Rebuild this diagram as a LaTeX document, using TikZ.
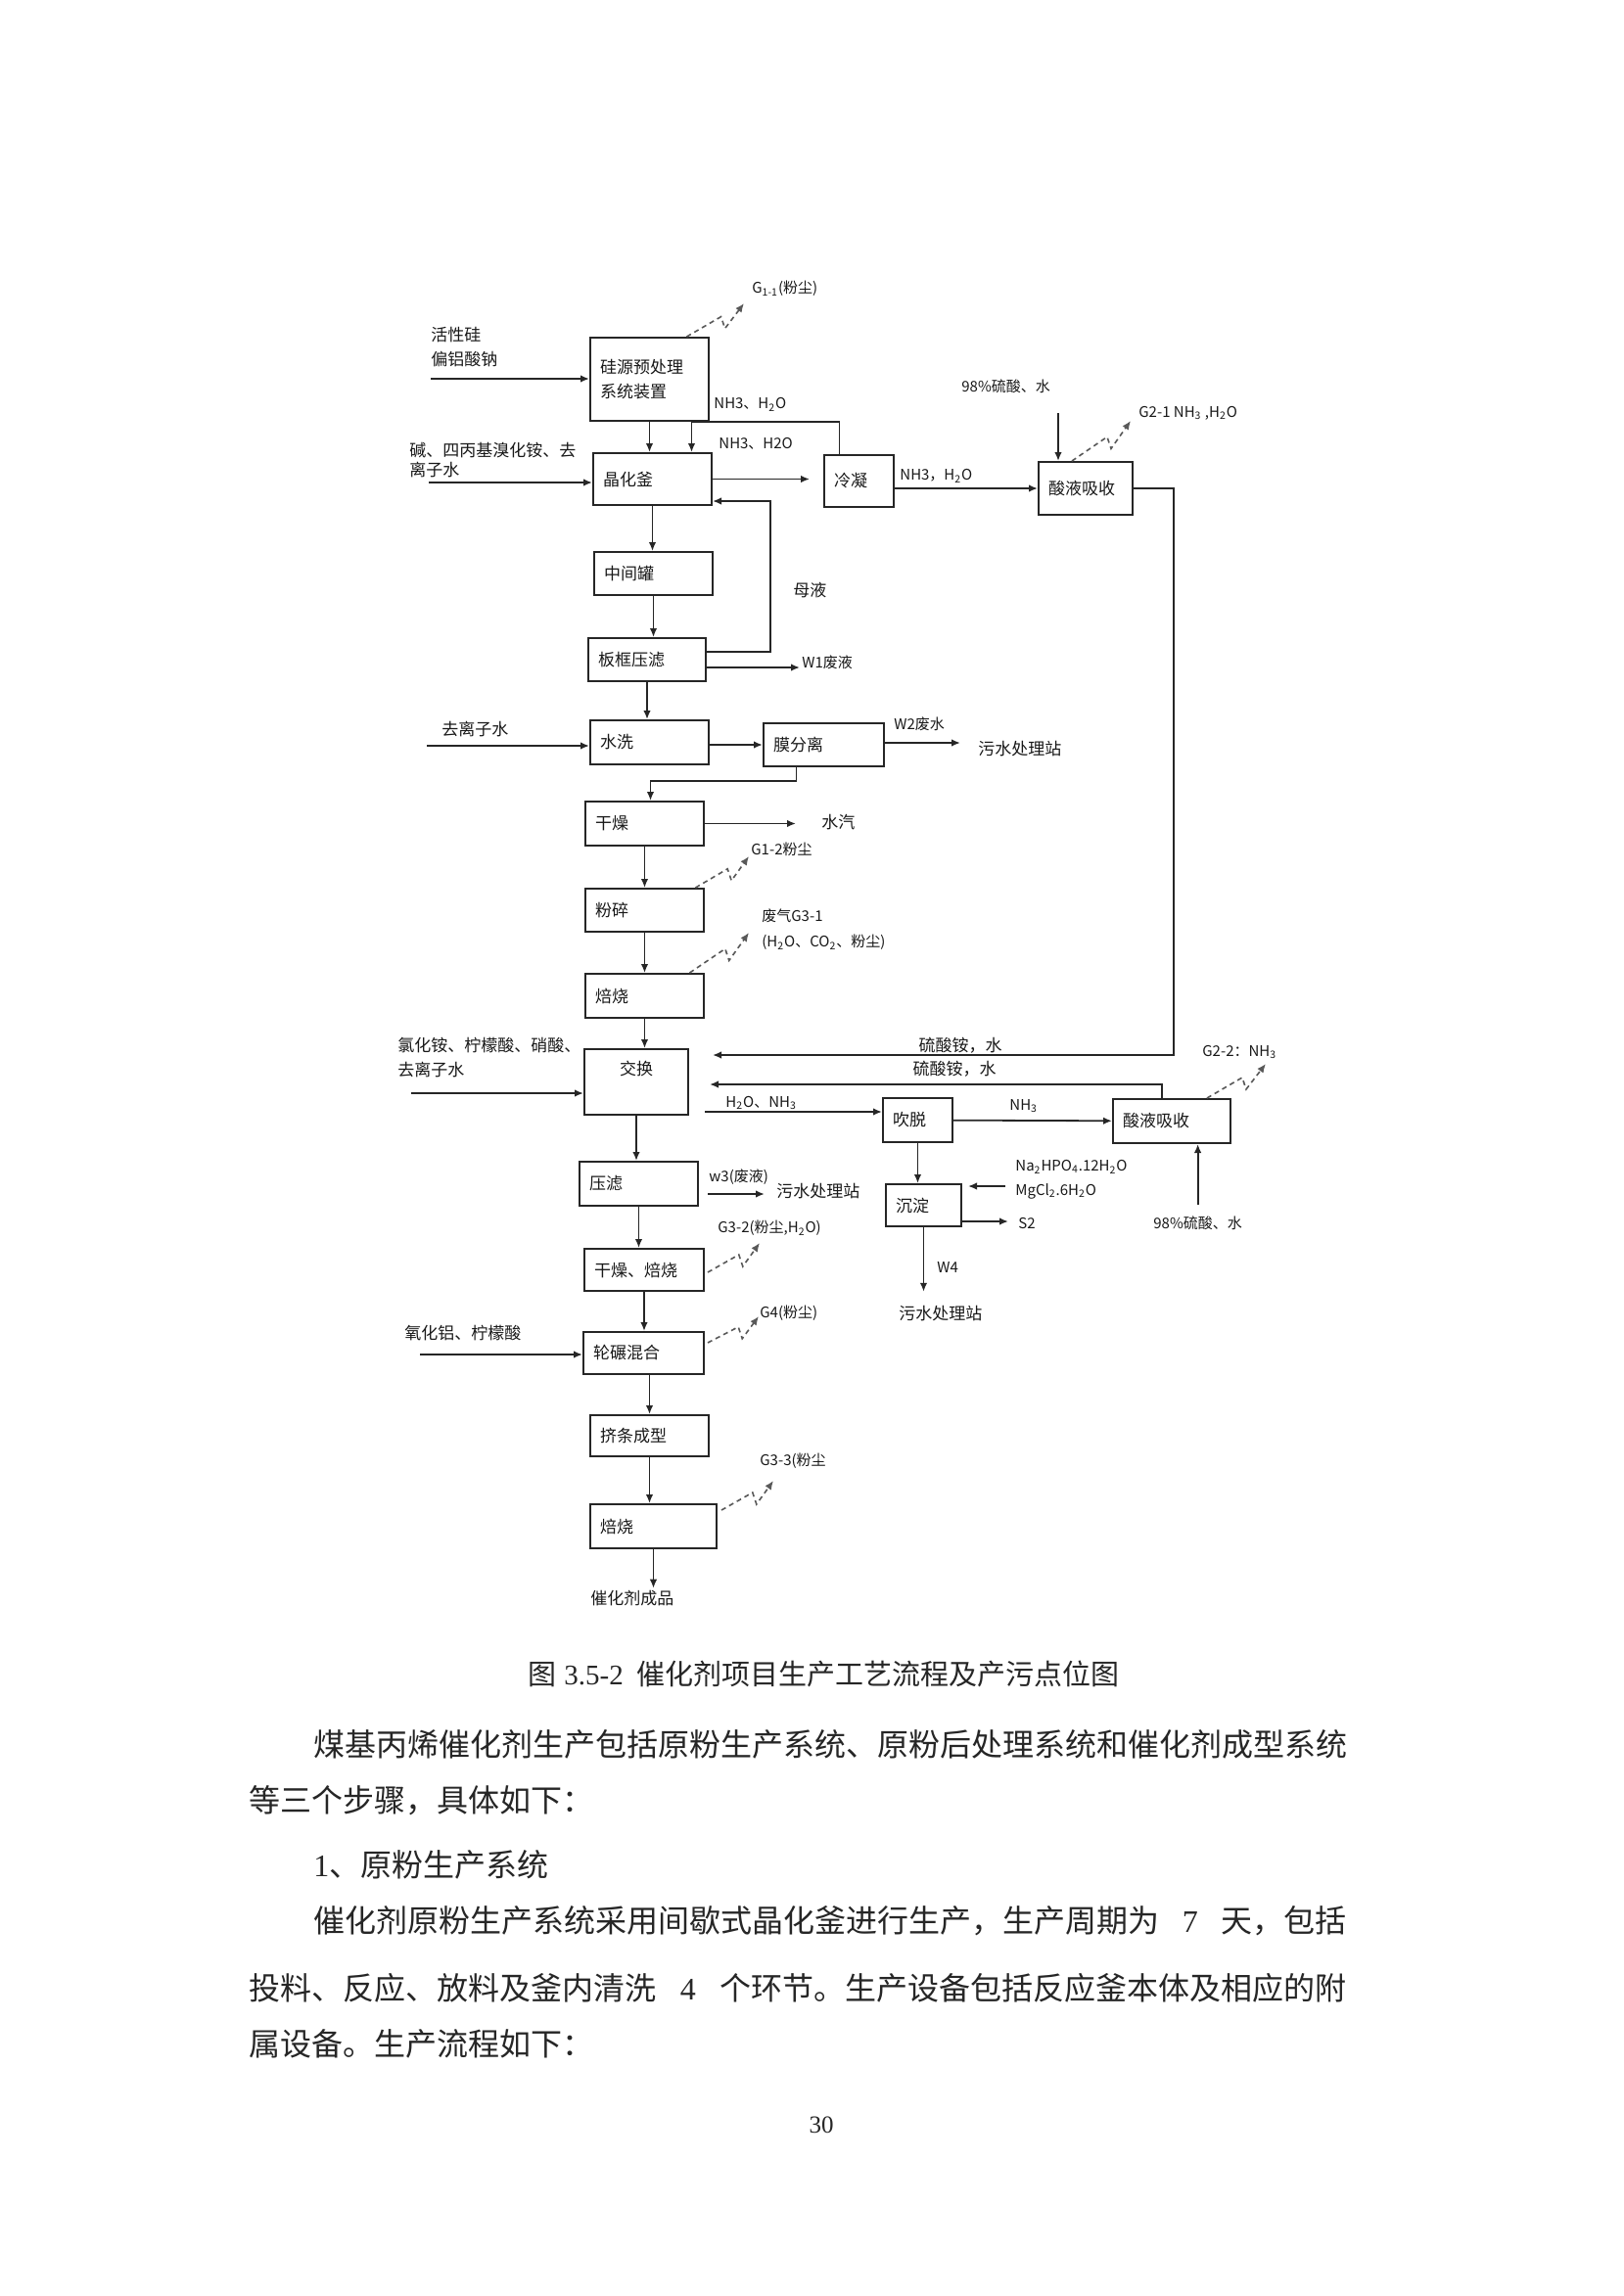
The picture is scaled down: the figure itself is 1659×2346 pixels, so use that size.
\documentclass[tikz,border=0pt]{standalone}
\usepackage{fontspec}
\setmainfont{Noto Sans CJK SC}
\newfontfamily\serifnum{Liberation Serif}
\usepackage{tikz}
\usetikzlibrary{arrows.meta,calc}
\newcommand\procfont{\fontsize{8.5}{12.5}\selectfont}
\newcommand\labfont{\fontsize{7.5}{10}\selectfont}
\newcommand\bodyfont{\fontsize{16}{20}\selectfont}
\newcommand\capfont{\fontsize{14.5}{18}\selectfont}
\newcommand\xs[1]{\textsubscript{#1}}
\newcommand\dust[2]{\draw[zig] (#1) -- ($(#1)!0.6!(#2)$) -- ($(#1)!0.6!(#2)+(4,12)$) -- (#2);}

\begin{document}
\begin{tikzpicture}[x=0.5pt,y=-0.5pt,
  proc/.style={draw=black!85,line width=1pt,font=\procfont,align=left,
               inner xsep=5pt,inner ysep=2pt,text=black!90},
  fl/.style={-{Latex[length=4.5pt,width=3.8pt]},line width=0.9pt,draw=black!85},
  zig/.style={-{Latex[length=4.5pt,width=3.8pt]},dash pattern=on 2.5pt off 2pt,
              line width=0.8pt,draw=black!65},
  et/.style={font=\labfont,inner sep=1pt,text=black!90,align=left},
  ent/.style={font=\procfont,inner sep=1pt,text=black!90,align=left},
  body/.style={font=\bodyfont,inner sep=0pt,anchor=west,text=black!85}]

  \useasboundingbox[fill=white] (0,0) rectangle (1659,2346);

  \node[proc,text width=50.5pt,minimum height=42.5pt] (pre) at (663.5,387.5) {硅源预处理\\系统装置};
  \node[proc,text width=50.5pt,minimum height=26.5pt] (cry) at (666.5,489.5) {晶化釜};
  \node[proc,text width=25.5pt,minimum height=26.5pt] (cond) at (877.5,491.5) {冷凝};
  \node[proc,text width=38pt,minimum height=27pt] (abs1) at (1109,499) {酸液吸收};
  \node[proc,text width=50.5pt,minimum height=22pt] (mid) at (667.5,586) {中间罐};
  \node[proc,text width=50pt,minimum height=22pt] (pf) at (661,674) {板框压滤};
  \node[proc,text width=50.5pt,minimum height=22.5pt] (wash) at (663.5,758.5) {水洗};
  \node[proc,text width=51.5pt,minimum height=22pt] (mem) at (841.5,761) {膜分离};
  \node[proc,text width=50.5pt,minimum height=22.5pt] (dry) at (658.5,841.5) {干燥};
  \node[proc,text width=50.5pt,minimum height=22pt] (mill) at (658.5,930) {粉碎};
  \node[proc,text width=50.5pt,minimum height=22.5pt] (roast1) at (658.5,1017.5) {焙烧};
  \node[proc,text width=43pt,align=center,text depth=14pt,minimum height=33.5pt] (exch) at (650,1105.5) {交换};
  \node[proc,text width=25.5pt,minimum height=22.5pt] (strip) at (937.5,1144.5) {吹脱};
  \node[proc,text width=50pt,minimum height=22.5pt] (abs2) at (1197,1145.5) {酸液吸收};
  \node[proc,text width=50.5pt,minimum height=22.5pt] (filt) at (652.5,1209.5) {压滤};
  \node[proc,text width=28.5pt,minimum height=21.5pt] (prec) at (943.5,1231.5) {沉淀};
  \node[proc,text width=51pt,minimum height=21.5pt] (dr2) at (658,1297.5) {干燥、焙烧};
  \node[proc,text width=51.5pt,minimum height=21.5pt] (mix) at (657.5,1382.5) {轮碾混合};
  \node[proc,text width=50.5pt,minimum height=21pt] (ext) at (663.5,1467) {挤条成型};
  \node[proc,text width=54.5pt,minimum height=22.5pt] (roast2) at (667.5,1559.5) {焙烧};

  \node[ent,anchor=west] (srcA) at (438,355) {活性硅\\偏铝酸钠};
  \node[ent,anchor=west] (srcB) at (416,470) {碱、四丙基溴化铵、去\\[-2.5pt]离子水};
  \node[ent,anchor=west] (srcC) at (449,745) {去离子水};
  \node[ent,anchor=west] (srcD) at (404,1080) {氯化铵、柠檬酸、硝酸、\\去离子水};
  \node[ent,anchor=west] (srcE) at (411,1362) {氧化铝、柠檬酸};
  \coordinate (inA) at (440,387);
  \coordinate (inB) at (438,493);
  \coordinate (inC) at (436,762);
  \coordinate (inD) at (420,1117);
  \coordinate (inE) at (429,1384);
  \draw[fl] (inA) -- (inA -| pre.west);
  \draw[fl] (inB) -- (inB -| cry.west);
  \draw[fl] (inC) -- (inC -| wash.west);
  \draw[fl] (inD) -- (inD -| exch.west);
  \draw[fl] (inE) -- (inE -| mix.west);

  \node[et,anchor=west] (nhA) at (727,413) {NH3、H\xs{2}O};
  \node[et,anchor=west] (nhB) at (732,453) {NH3、H2O};
  \node[et,anchor=west] (nhC) at (917,486) {NH3，H\xs{2}O};
  \node[et,anchor=west] (acA) at (980,395) {98\%硫酸、水};
  \node[ent,anchor=west] (ml) at (808,603) {母液};
  \node[et,anchor=west] (w1) at (817,677) {W1废液};
  \node[et,anchor=west] (w2) at (911,740) {W2废水};
  \node[ent,anchor=west] (ws1) at (997,765) {污水处理站};
  \node[ent,anchor=west] (vap) at (837,840) {水汽};
  \node[ent] (saA) at (981,1068) {硫酸铵，水};
  \node[ent] (saB) at (975,1092) {硫酸铵，水};
  \node[et,anchor=west] (hn) at (739,1127) {H\xs{2}O、NH\xs{3}};
  \node[et,anchor=west] (nhD) at (1029,1130) {NH\xs{3}};
  \node[et,anchor=west] (w3) at (722,1203) {w3(废液)};
  \node[ent,anchor=west] (ws2) at (791,1217) {污水处理站};
  \node[et,anchor=west] (rgA) at (1035,1192) {Na\xs{2}HPO\xs{4}.12H\xs{2}O};
  \node[et,anchor=west] (rgB) at (1035,1217) {MgCl\xs{2}.6H\xs{2}O};
  \node[et,anchor=west] (s2) at (1038,1250) {S2};
  \node[et,anchor=west] (w4) at (955,1295) {W4};
  \node[ent,anchor=west] (ws3) at (916,1342) {污水处理站};
  \node[et,anchor=west] (acB) at (1176,1250) {98\%硫酸、水};
  \node[ent,anchor=west] (prod) at (601,1633) {催化剂成品};

  \node[et,anchor=west] (gA) at (766,295) {G\xs{1-1}(粉尘)};
  \node[et,anchor=west] (gB) at (1161,422) {G2-1 NH\xs{3} ,H\xs{2}O};
  \node[et,anchor=west] (gC) at (765,868) {G1-2粉尘};
  \node[et,anchor=west] (gD) at (776,949.5) {废气G3-1\\[3pt](H\xs{2}O、CO\xs{2}、粉尘)};
  \node[et,anchor=west] (gE) at (1226,1075) {G2-2：NH\xs{3}};
  \node[et,anchor=west] (gF) at (731,1255) {G3-2(粉尘,H\xs{2}O)};
  \node[et,anchor=west] (gG) at (774,1342) {G4(粉尘)};
  \node[et,anchor=west] (gH) at (774,1493) {G3-3(粉尘};

  \draw[fl] (pre.south) -- (pre.south |- cry.north);
  \draw[fl] (cry.south) -- (cry.south |- mid.north);
  \draw[fl] (mid.south) -- (mid.south |- pf.north);
  \draw[fl] (pf.south) -- (pf.south |- wash.north);
  \draw[fl] (dry.south) -- (dry.south |- mill.north);
  \draw[fl] (mill.south) -- (mill.south |- roast1.north);
  \draw[fl] (roast1.south) -- (roast1.south |- exch.north);
  \draw[fl] (exch.south) -- (exch.south |- filt.north);
  \draw[fl] (filt.south) -- (filt.south |- dr2.north);
  \draw[fl] (dr2.south) -- (dr2.south |- mix.north);
  \draw[fl] (ext.north |- mix.south) -- (ext.north);
  \draw[fl] (ext.south) -- (ext.south |- roast2.north);
  \draw[fl] (roast2.south) -- (roast2.south |- prod.north);

  \draw[fl,shorten >=7pt] (cry.east) -- (cry.east -| cond.west);
  \draw[fl] (abs1.west -| cond.east) -- (abs1.west);
  \coordinate (fbA) at ($(cond.north)+(-20,0)$);
  \coordinate (fbB) at ($(cry.north)+(40,0)$);
  \draw[fl] (fbA) |- ($(fbB)+(0,-31)$) -- (fbB);
  \coordinate (acAs) at (1081,422);
  \draw[fl] (acAs) -- (acAs |- abs1.north);
  \draw[fl] (abs1.east) -- ($(abs1.east)+(41,0)$) |- ($(exch.east)+(24,-27.5)$);

  \coordinate (mlA) at ($(pf.east)+(0,-8)$);
  \coordinate (mlB) at ($(cry.east)+(0,22.5)$);
  \draw[fl] (mlA) -- ++(65,0) |- (mlB);
  \coordinate (w1s) at ($(pf.east)+(0,8)$);
  \draw[fl] (w1s) -- (w1s -| w1.west);

  \draw[fl] (wash.east |- mem.west) -- (mem.west);
  \coordinate (w2s) at ($(mem.east)+(0,-2)$);
  \draw[fl,shorten >=8pt] (w2s) -- (w2s -| ws1.west);
  \coordinate (mdA) at ($(mem.south)+(-28,0)$);
  \coordinate (mdB) at ($(dry.north)+(6,0)$);
  \draw[fl] (mdA) -- ++(0,14) -| (mdB);
  \draw[fl,shorten >=12pt] (dry.east) -- (dry.east -| vap.west);

  \draw[fl] ($(abs2.north)+(-10,0)$) |- ($(exch.east)+(21,2.5)$);
  \coordinate (hs) at ($(exch.east)+(16,30.5)$);
  \draw[fl] (hs) -- (hs -| strip.west);
  \draw[fl] (strip) -- (abs2);
  \draw[fl] (strip.south) -- (strip.south |- prec.north);
  \coordinate (rgS) at ($(rgB.west)+(-8,-5)$);
  \draw[fl,shorten >=3pt] (rgS) -- (rgS -| prec.east);
  \coordinate (s2s) at ($(prec.east)+(0,16.5)$);
  \draw[fl,shorten >=4pt] (s2s) -- (s2s -| s2.west);
  \draw[fl,shorten >=6pt] (prec.south) -- (prec.south |- ws3.north);
  \draw[fl,shorten <=5pt] (acB.north) -- (acB.north |- abs2.south);
  \coordinate (w3s) at ($(filt.east)+(9,10.5)$);
  \draw[fl,shorten >=5pt] (w3s) -- (w3s -| ws2.west);

  \coordinate (gAs) at ($(pre.north)+(38,0)$);   \coordinate (gAt) at (760,310);
  \coordinate (gBs) at ($(abs1.north)+(-14,0)$); \coordinate (gBt) at (1155,430);
  \coordinate (gCs) at ($(mill.north)+(52,0)$);  \coordinate (gCt) at (765,875);
  \coordinate (gDs) at ($(roast1.north)+(46,0)$); \coordinate (gDt) at (765,953);
  \coordinate (gEs) at ($(abs2.north)+(36,0)$);  \coordinate (gEt) at (1293,1087);
  \coordinate (gFs) at ($(dr2.east)+(3,2.5)$);   \coordinate (gFt) at (776,1270);
  \coordinate (gGs) at ($(mix.east)+(3,-10.5)$); \coordinate (gGt) at (775,1345);
  \coordinate (gHs) at ($(roast2.east)+(4,-16.5)$); \coordinate (gHt) at (790,1513);
  \dust{gAs}{gAt} \dust{gBs}{gBt} \dust{gCs}{gCt} \dust{gDs}{gDt}
  \dust{gEs}{gEt} \dust{gFs}{gFt} \dust{gGs}{gGt} \dust{gHs}{gHt}

  \node[font=\capfont,anchor=west,inner sep=0pt,text=black!85] (cap) at (539,1710)
    {图\hspace{4pt}{\serifnum 3.5-2}\hspace{7pt}催化剂项目生产工艺流程及产污点位图};
  \node[body] (txA) at (320,1782) {煤基丙烯催化剂生产包括原粉生产系统、原粉后处理系统和催化剂成型系统};
  \node[body] (txB) at (254,1840) {等三个步骤，具体如下：};
  \node[body] (txC) at (320,1905) {{\serifnum 1}、原粉生产系统};
  \node[body] (txD) at (320,1963) {\makebox[527.5pt][s]{催化剂原粉生产系统采用间歇式晶化釜进行生产，生产周期为 {\serifnum 7} 天，包括}};
  \node[body] (txE) at (254,2031) {\makebox[560.5pt][s]{投料、反应、放料及釜内清洗 {\serifnum 4} 个环节。生产设备包括反应釜本体及相应的附}};
  \node[body] (txF) at (254,2088) {属设备。生产流程如下：};
  \node[font=\fontsize{12.5}{15}\serifnum,text=black!85] (pnum) at (839,2171) {30};
\end{tikzpicture}
\end{document}
